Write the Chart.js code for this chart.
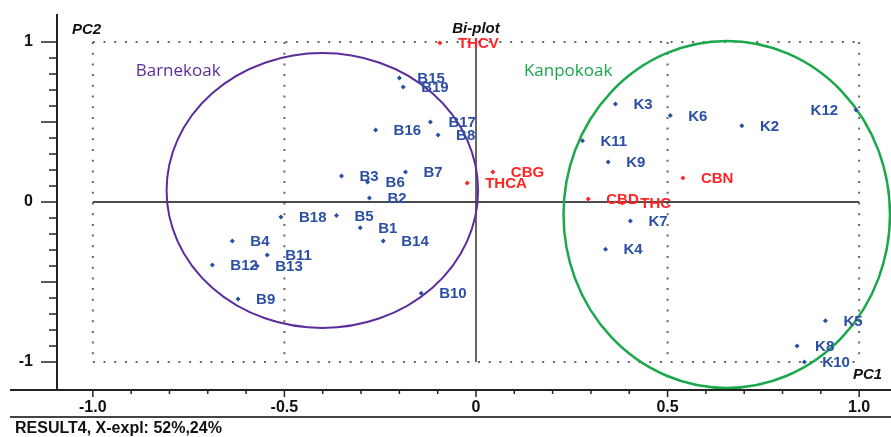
<!DOCTYPE html>
<html>
<head>
<meta charset="utf-8">
<script src="https://cdn.jsdelivr.net/npm/chart.js@4.4.1/dist/chart.umd.min.js"></script>
<style>
  html, body { margin: 0; padding: 0; background: #fff; }
  canvas { display: block; }
</style>
</head>
<body>
<canvas id="biplot" width="891" height="437"></canvas>
<script>
// Scores (samples)
const sampleNames = ['B1', 'B2', 'B3', 'B4', 'B5', 'B6', 'B7', 'B8', 'B9', 'B10',
    'B11', 'B12', 'B13', 'B14', 'B15', 'B16', 'B17', 'B18', 'B19',
    'K2', 'K3', 'K4', 'K5', 'K6', 'K7', 'K8', 'K9', 'K10', 'K11', 'K12'];
const sampleX = [-0.302, -0.278, -0.351, -0.636, -0.364, -0.283, -0.184, -0.099, -0.621, -0.143,
    -0.545, -0.688, -0.571, -0.242, -0.200, -0.262, -0.119, -0.509, -0.190,
    0.694, 0.364, 0.338, 0.912, 0.507, 0.403, 0.838, 0.345, 0.857, 0.278, 0.992];
const sampleY = [-0.161, 0.025, 0.162, -0.244, -0.085, 0.125, 0.188, 0.419, -0.606, -0.570,
    -0.331, -0.394, -0.400, -0.243, 0.775, 0.450, 0.500, -0.094, 0.719,
    0.477, 0.612, -0.295, -0.742, 0.540, -0.119, -0.900, 0.250, -1.000, 0.383, 0.575];

// Loadings (cannabinoids)
const varNames = ['THCV', 'CBG', 'THCA', 'CBD', 'THC', 'CBN'];
const varX = [-0.094, 0.044, -0.023, 0.293, 0.382, 0.540];
const varY = [0.994, 0.188, 0.119, 0.019, -0.006, 0.150];

// Axis ticks
const xTickValues = [-1, -0.5, 0, 0.5, 1];
const xTickLabels = ['-1.0', '-0.5', '0', '0.5', '1.0'];
const yTickValues = [-1, 0, 1];
const yTickLabels = ['-1', '0', '1'];

// Group ellipses (centre and radii in axis units)
const groupNames = ['Barnekoak', 'Kanpokoak'];
const groupCx = [-0.401, 0.6545];
const groupCy = [0.072, -0.078];
const groupRx = [0.4065, 0.426];
const groupRy = [0.859, 1.084];

const FONT = '"Liberation Sans", Arial, sans-serif';
const BLUE = '#2b4fa5';
const RED = '#ff2424';
const groupColors = ['#5b2d9b', '#1aa84b'];

function toPoints(xs, ys) {
    return xs.map((v, i) => ({ x: v, y: ys[i] }));
}

function line(ctx, x1, y1, x2, y2) {
    ctx.beginPath();
    ctx.moveTo(x1, y1);
    ctx.lineTo(x2, y2);
    ctx.stroke();
}

const biplotDecor = {
    id: 'biplotDecor',
    beforeDatasetsDraw(chart) {
        const { ctx, scales: { x, y } } = chart;
        const px = v => x.getPixelForValue(v);
        const py = v => y.getPixelForValue(v);
        ctx.save();

        // dotted frame at +-1 and at +-0.5 on PC1
        ctx.strokeStyle = '#666';
        ctx.lineWidth = 2;
        ctx.setLineDash([2, 8.7]);
        [1, -1].forEach(v => line(ctx, px(-1), py(v), px(1), py(v)));
        [-1, -0.5, 0.5, 1].forEach(v => line(ctx, px(v), py(1), px(v), py(-1)));
        ctx.setLineDash([]);

        // zero lines
        ctx.strokeStyle = '#111';
        ctx.lineWidth = 1.5;
        line(ctx, px(-1), py(0), px(1), py(0));
        ctx.strokeStyle = '#333';
        line(ctx, px(0), py(1), px(0), py(-1));

        // group ellipses
        const ux = px(1) - px(0), uy = py(0) - py(1);
        groupNames.forEach((name, i) => {
            ctx.strokeStyle = groupColors[i];
            ctx.lineWidth = i === 0 ? 2 : 2.5;
            ctx.beginPath();
            ctx.ellipse(px(groupCx[i]), py(groupCy[i]), groupRx[i] * ux, groupRy[i] * uy, 0, 0, Math.PI * 2);
            ctx.stroke();
        });

        // group names
        ctx.font = '17px "Open Sans", sans-serif';
        ctx.textBaseline = 'middle';
        ctx.textAlign = 'left';
        ctx.fillStyle = groupColors[0];
        ctx.fillText(groupNames[0], px(-0.888), py(0.819));
        ctx.fillStyle = groupColors[1];
        ctx.fillText(groupNames[1], px(0.125), py(0.819));
        ctx.restore();
    },
    afterDatasetsDraw(chart) {
        const { ctx } = chart;
        ctx.save();
        ctx.font = 'bold 15px ' + FONT;
        ctx.textBaseline = 'middle';
        chart.data.datasets.forEach((ds, di) => {
            const meta = chart.getDatasetMeta(di);
            ctx.fillStyle = ds.labelColor;
            meta.data.forEach((pt, i) => {
                const txt = ds.names[i];
                const w = ctx.measureText(txt).width;
                if (pt.x + 18 + w > chart.width) {
                    ctx.textAlign = 'right';
                    ctx.fillText(txt, pt.x - 18, pt.y + 1);
                } else {
                    ctx.textAlign = 'left';
                    ctx.fillText(txt, pt.x + 18, pt.y + 1);
                }
            });
        });
        ctx.restore();
    },
    afterDraw(chart) {
        const { ctx, chartArea: area, scales: { x, y } } = chart;
        ctx.save();
        ctx.strokeStyle = '#222';
        ctx.lineWidth = 2;
        // axis lines
        line(ctx, area.left, area.top, area.left, area.bottom);
        line(ctx, 10, area.bottom, chart.width, area.bottom);
        ctx.strokeStyle = '#444';
        line(ctx, 10, 417, chart.width, 417);

        // tick marks every 0.1
        ctx.strokeStyle = '#222';
        ctx.lineWidth = 1.5;
        for (let k = -10; k <= 10; k++) {
            const v = k / 10;
            const major = k % 5 === 0;
            const yp = y.getPixelForValue(v);
            line(ctx, area.left - (major ? 16 : 8), yp, area.left, yp);
            const xp = x.getPixelForValue(v);
            line(ctx, xp, area.bottom, xp, area.bottom + (major ? 7 : 4));
        }

        // axis names and caption
        ctx.fillStyle = '#111';
        ctx.textBaseline = 'middle';
        ctx.font = 'italic bold 15px ' + FONT;
        ctx.textAlign = 'left';
        ctx.fillText('PC2', 72, 30);
        ctx.fillText('PC1', 853, 375);
        ctx.textAlign = 'center';
        ctx.fillText('Bi-plot', x.getPixelForValue(0), 29);
        ctx.font = 'bold 16px ' + FONT;
        ctx.textAlign = 'left';
        ctx.fillText('RESULT4, X-expl: 52%,24%', 15, 429);
        ctx.restore();
    }
};

new Chart(document.getElementById('biplot'), {
    type: 'scatter',
    data: {
        datasets: [{
            label: 'Samples',
            names: sampleNames,
            labelColor: BLUE,
            data: toPoints(sampleX, sampleY),
            pointStyle: 'rectRot',
            pointRadius: 2.5,
            backgroundColor: BLUE,
            borderColor: BLUE,
            borderWidth: 0
        }, {
            label: 'Variables',
            names: varNames,
            labelColor: RED,
            data: toPoints(varX, varY),
            pointStyle: 'rectRot',
            pointRadius: 2.5,
            backgroundColor: RED,
            borderColor: RED,
            borderWidth: 0
        }]
    },
    options: {
        responsive: false,
        animation: false,
        layout: { padding: { top: 14, left: 0, right: 0, bottom: 0 } },
        plugins: {
            legend: { display: false },
            tooltip: { enabled: false }
        },
        scales: {
            x: {
                type: 'linear',
                min: -1.0935,
                max: 1.0727,
                afterFit: (s) => {
                    s.height = 47;
                    s.paddingLeft = 0;
                    s.paddingRight = 0;
                },
                afterBuildTicks: (s) => { s.ticks = xTickValues.map(v => ({ value: v })); },
                grid: { display: false, drawTicks: false },
                border: { display: false },
                ticks: {
                    autoSkip: false,
                    maxRotation: 0,
                    padding: 8,
                    color: '#111',
                    font: { family: FONT, size: 16, weight: 'bold' },
                    callback: (v, i) => xTickLabels[i]
                }
            },
            y: {
                type: 'linear',
                min: -1.175,
                max: 1.175,
                afterFit: (s) => {
                    s.width = 57;
                    s.paddingTop = 0;
                    s.paddingBottom = 0;
                },
                afterBuildTicks: (s) => { s.ticks = yTickValues.map(v => ({ value: v })); },
                grid: { display: false, drawTicks: false },
                border: { display: false },
                ticks: {
                    autoSkip: false,
                    padding: 24,
                    color: '#111',
                    font: { family: FONT, size: 16, weight: 'bold' },
                    callback: (v, i) => yTickLabels[i]
                }
            }
        }
    },
    plugins: [biplotDecor]
});
</script>
</body>
</html>
